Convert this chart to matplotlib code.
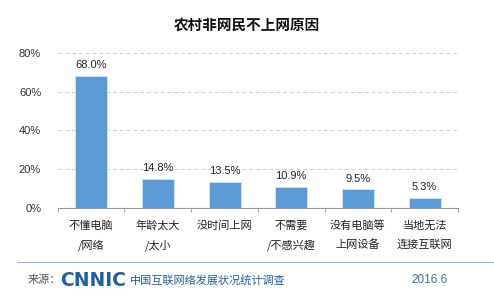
import matplotlib
matplotlib.use("Agg")
import matplotlib.pyplot as plt
import numpy as np

plt.rcParams["font.family"] = ["Noto Sans CJK SC", "DejaVu Sans"]

# -- data --
categories = ["不懂电脑\n/网络", "年龄太大\n/太小", "没时间上网", "不需要\n/不感兴趣",
              "没有电脑等\n上网设备", "当地无法\n连接互联网"]
values = [68.0, 14.8, 13.5, 10.9, 9.5, 5.3]
yticks = [0, 20, 40, 60, 80]

BAR = "#5B9BD5"
BLUE = "#1F5FA8"
GRID = "#D0D0D0"
NUMFONT = "Liberation Sans"

fig = plt.figure(figsize=(4.94, 3.0), dpi=100)
ax = fig.add_axes([0.117, 0.307, 0.81, 0.517])

x = np.arange(len(values))
ax.bar(x, values, width=0.48, color=BAR, edgecolor="#D6E6F5", linewidth=0.6, zorder=3)
for xi, v in zip(x, values):
    ax.text(xi, v + 3.0, f"{v:.1f}%", ha="center", va="bottom", fontsize=8,
            color="#222222", family=NUMFONT, zorder=4)

ax.set_xlim(-0.5, len(values) - 0.5)
ax.set_ylim(0, 80)
ax.set_yticks(yticks)
ax.set_yticklabels([f"{t}%" for t in yticks], fontsize=8, color="#333333",
                   family=NUMFONT)
ax.yaxis.grid(True, linestyle=(0, (4, 3)), color=GRID, linewidth=0.7, zorder=0)
ax.tick_params(axis="y", length=0, pad=12)

ax.set_xticks(x)
ax.set_xticklabels(categories, fontsize=8, color="#222222", linespacing=1.95)
ax.set_xticks(np.arange(len(values) + 1) - 0.5, minor=True)
ax.tick_params(axis="x", which="major", length=0, pad=9)
ax.tick_params(axis="x", which="minor", length=3, color="#999999", direction="out")

for s in ["top", "right", "left"]:
    ax.spines[s].set_visible(False)
ax.spines["bottom"].set_color("#999999")
ax.spines["bottom"].set_linewidth(0.8)

# title
fig.text(0.5, 1 - 25 / 300, "农村非网民不上网原因", ha="center", va="center",
         fontsize=10.5, fontweight="bold", color="#111111")

# footer
fig.add_artist(plt.Line2D([18 / 494, 1.0], [1 - 262 / 300, 1 - 262 / 300],
                          color="#8DB3DD", linewidth=0.8))
fy = 1 - 280 / 300
fig.text(28 / 494, fy, "来源：", ha="left", va="center", fontsize=8, color="#555555")
fig.text(60 / 494, fy, "CNNIC", ha="left", va="center", fontsize=13.5,
         fontweight="bold", color=BLUE, family="DejaVu Sans")
fig.text(130 / 494, fy, "中国互联网络发展状况统计调查", ha="left", va="center",
         fontsize=8, color=BLUE)
fig.text(448 / 494, fy, "2016.6", ha="right", va="center", fontsize=8.5,
         color="#3A6EA8", family=NUMFONT)

fig.savefig("out.png", dpi=100)
